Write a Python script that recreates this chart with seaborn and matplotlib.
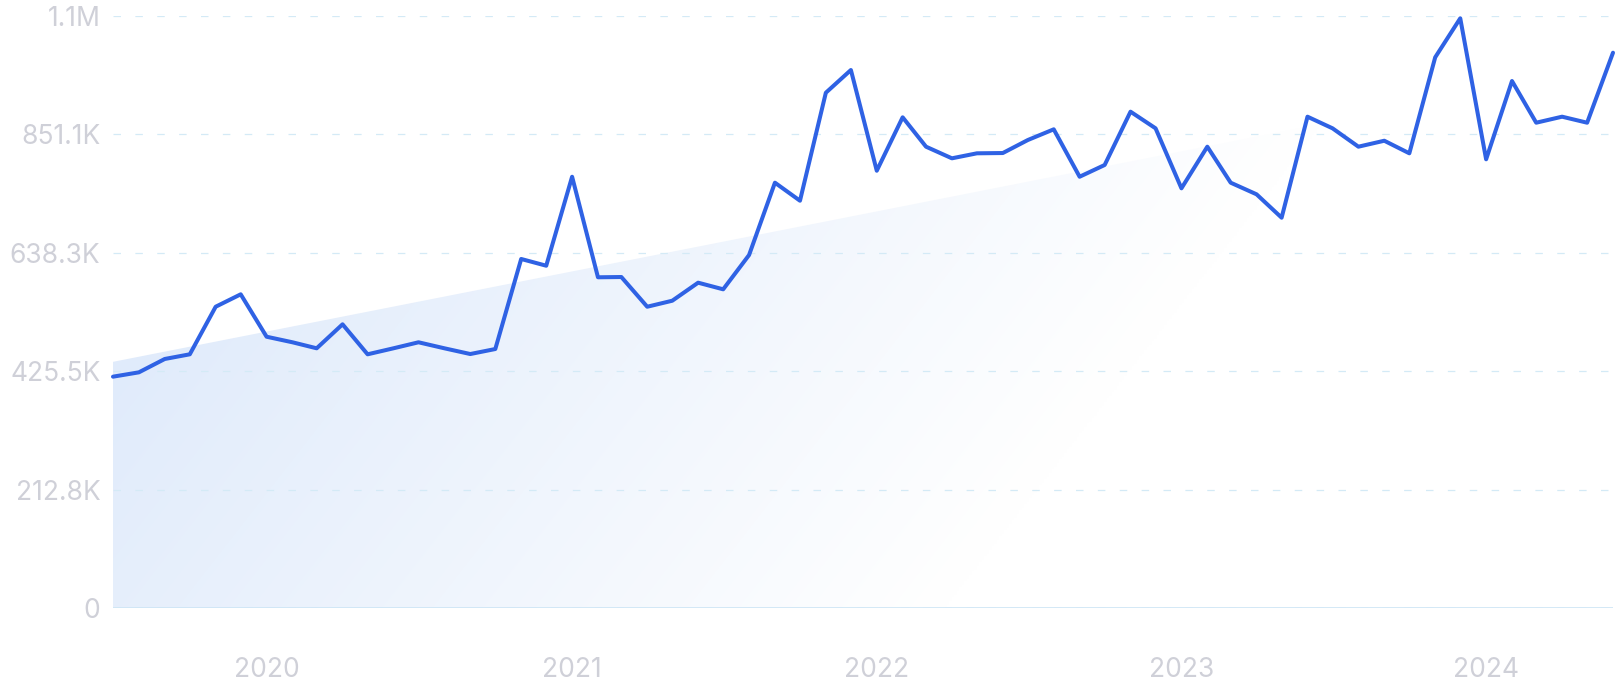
import numpy as np
import pandas as pd
import matplotlib
matplotlib.use("Agg")
import matplotlib.pyplot as plt
import matplotlib.dates as mdates
from matplotlib.patches import Polygon
import seaborn as sns

# ── Data (monthly) ─────────────────────────────────────
months = pd.date_range("2019-07-01", "2024-06-01", freq="MS")
searches = [
    415700, 423500, 447500, 455900, 541400, 563700, 487500, 477500, 466700, 509800,
    455900, 466700, 477500, 466700, 456400, 465400, 627200, 615100, 775000, 594300,
    594800, 541400, 552200, 584600, 572700, 634300, 764300, 731900, 926000, 966800,
    785800, 881800, 829000, 808100, 817100, 817600, 841000, 860200, 775000, 796100,
    891900, 862000, 754200, 829000, 764300, 743400, 701400, 882900, 862000, 829000,
    839700, 817100, 989600, 1059700, 806300, 947000, 872100, 882900, 872100, 997900,
]
y_ticks = [0, 212770, 425540, 638310, 851080, 1063850]
y_labels = ["0", "212.8K", "425.5K", "638.3K", "851.1K", "1.1M"]

# ── Style ──────────────────────────────────────────────
LINE_COLOR = "#2f62e4"
GRID_COLOR = "#d4eaf6"
BASE_COLOR = "#cde5f5"
TEXT_COLOR = "#cfd0d8"
FILL_START = np.array([224, 235, 251]) / 255

sns.set_theme(style="white")
plt.rcParams["font.family"] = ["Inter", "DejaVu Sans"]

df = pd.DataFrame({"month": months, "searches": searches})

fig = plt.figure(figsize=(16.18, 7.0), dpi=100)
ax = fig.add_axes([113 / 1618, 92 / 700, 1500 / 1618, 592 / 700])

x_num = mdates.date2num(df["month"])
x0, x1 = x_num[0], x_num[-1]
y_max = y_ticks[-1]

# linear trend area with a diagonal fade
coef = np.polyfit(x_num, df["searches"], 1)
trend = np.polyval(coef, [x0, x1])
H, W = 300, 600
py = 16 + np.linspace(0, 592, H)[:, None]
px = 113 + np.linspace(0, 1500, W)[None, :]
t = np.clip(((px - 113) * 450 + (py - 362) * 350) / 460000, 0, 1)
grad = FILL_START[None, None, :] * (1 - t[..., None]) + t[..., None]
img = ax.imshow(grad, extent=[x0, x1, 0, y_max], aspect="auto", zorder=0,
                interpolation="bilinear")
poly = Polygon([(x0, 0), (x0, trend[0]), (x1, trend[1]), (x1, 0)],
               closed=True, facecolor="none", edgecolor="none")
ax.add_patch(poly)
img.set_clip_path(poly)

sns.lineplot(data=df, x="month", y="searches", ax=ax, color=LINE_COLOR,
             linewidth=2.9, zorder=3, clip_on=False)

ax.set_xlim(x0, x1)
ax.set_ylim(0, y_max)
ax.set_yticks(y_ticks)
ax.set_yticklabels(y_labels)
ax.xaxis.set_major_locator(mdates.YearLocator())
ax.xaxis.set_major_formatter(mdates.DateFormatter("%Y"))

ax.grid(axis="y", color=GRID_COLOR, linewidth=0.9, linestyle=(0, (6, 11.5)), zorder=1)
ax.grid(axis="x", visible=False)
ax.axhline(0, color=BASE_COLOR, linewidth=1.2, zorder=2)
for s in ax.spines.values():
    s.set_visible(False)

ax.tick_params(axis="both", length=0, labelsize=19, labelcolor=TEXT_COLOR)
ax.tick_params(axis="y", pad=9)
ax.tick_params(axis="x", pad=35)
ax.set_xlabel("")
ax.set_ylabel("")
ax.set_facecolor("white")

fig.savefig("out.png", dpi=100, facecolor="white")
